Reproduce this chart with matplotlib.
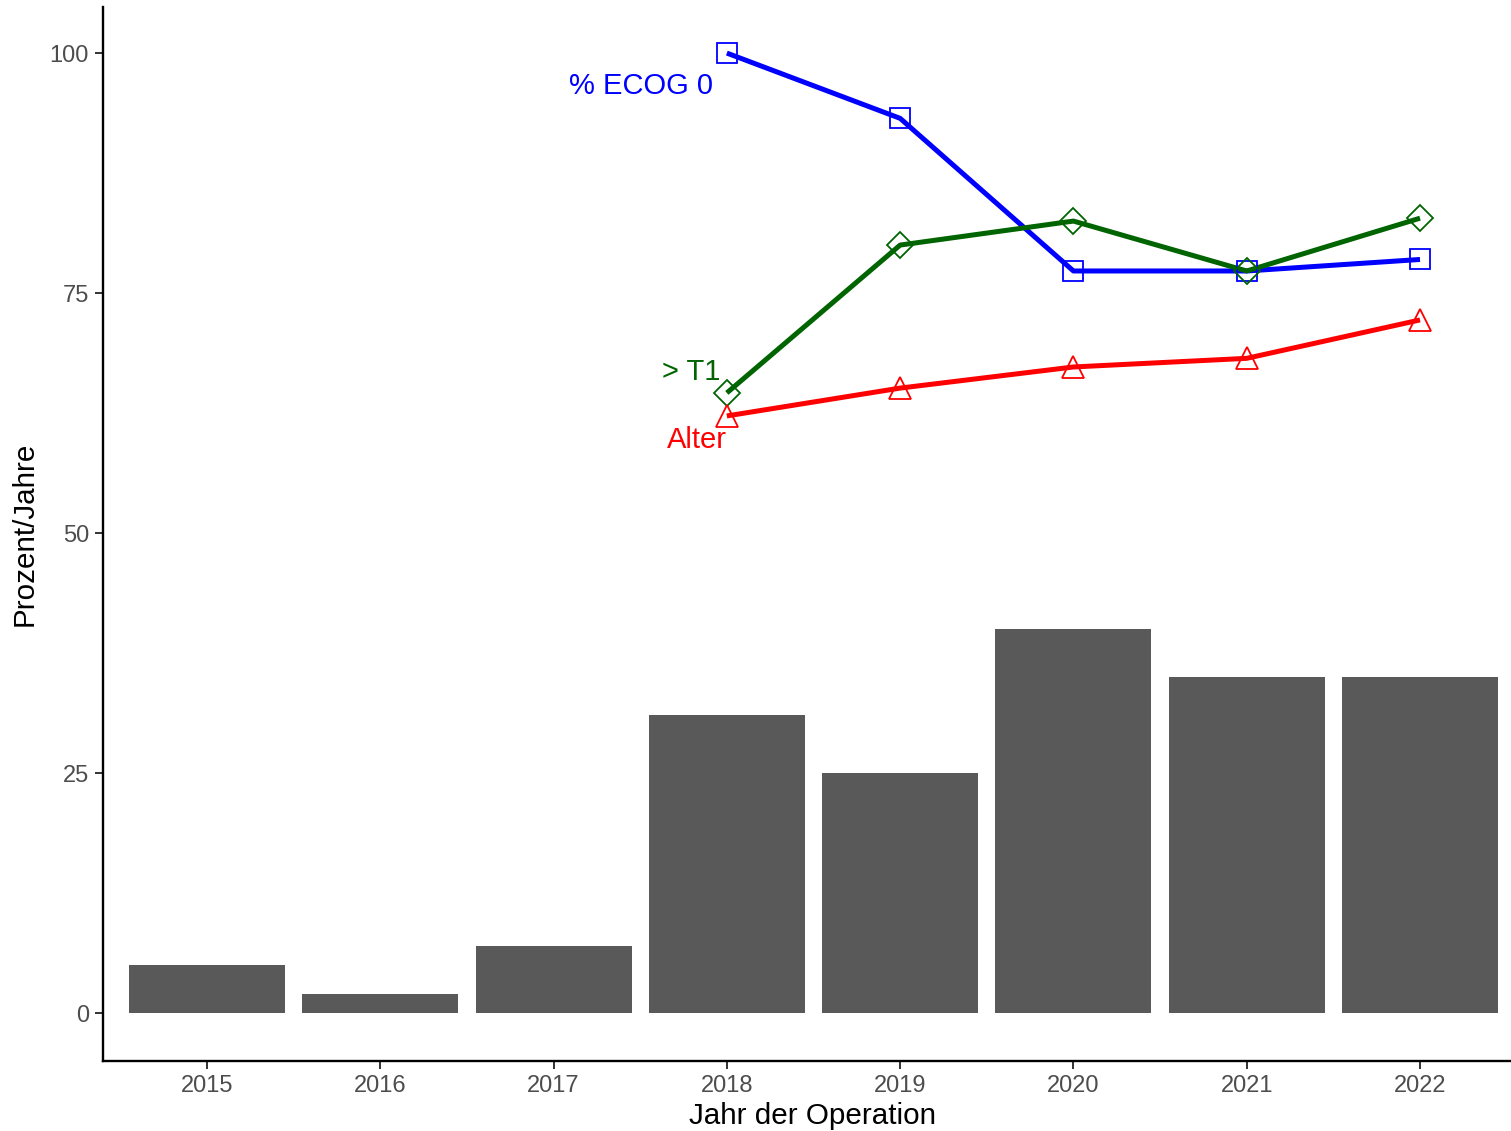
import numpy as np
import matplotlib
matplotlib.use("Agg")
import matplotlib.pyplot as plt

plt.rcParams['font.family'] = ['Liberation Sans', 'DejaVu Sans']

jahre = [2015, 2016, 2017, 2018, 2019, 2020, 2021, 2022]
anzahl = [5, 2, 7, 31, 25, 40, 35, 35]

linien_jahre = [2018, 2019, 2020, 2021, 2022]
ecog0 = [100, 93.2, 77.3, 77.3, 78.5]
t1 = [64.6, 80.0, 82.5, 77.3, 82.8]
alter = [62.2, 65.1, 67.3, 68.2, 72.2]

fig = plt.figure(figsize=(15.11, 11.31), dpi=100)
ax = fig.add_axes([103 / 1511, 70 / 1131, 1 - 103 / 1511, (1124 - 70) / 1131])

ax.bar(jahre, anzahl, width=0.9, color='#595959', zorder=1)

for werte, farbe, marker, ms in [(ecog0, 'blue', 's', 14),
                                 (t1, 'darkgreen', 'D', 13),
                                 (alter, 'red', '^', 16)]:
    ax.plot(linien_jahre, werte, color=farbe, lw=3.6, zorder=2,
            solid_capstyle='butt')
    ax.plot(linien_jahre, werte, ls='none', marker=marker, ms=ms,
            mfc='none', mec=farbe, mew=1.3, zorder=3)

ax.text(2017.92, 96.6, '% ECOG 0', color='blue', fontsize=21,
        ha='right', va='center')
ax.text(2017.96, 66.8, '> T1', color='darkgreen', fontsize=21,
        ha='right', va='center')
ax.text(2018.0, 59.7, 'Alter', color='red', fontsize=21,
        ha='right', va='center')

ax.set_xlim(2014.4, 2022.525)
ax.set_ylim(-5, 104.8)
ax.set_xticks(jahre)
ax.set_yticks([0, 25, 50, 75, 100])

for side in ['top', 'right']:
    ax.spines[side].set_visible(False)
for side in ['left', 'bottom']:
    ax.spines[side].set_linewidth(1.7)

ax.tick_params(axis='both', length=6, width=1.4, color='#333333',
               labelsize=17, labelcolor='#4D4D4D', pad=4)

ax.set_xlabel('Jahr der Operation', fontsize=21.3)
ax.set_ylabel('Prozent/Jahre', fontsize=21.3)
# panel in the original runs past the right edge, so its title sits a bit right of centre
ax.xaxis.set_label_coords(0.504, -0.039)
ax.yaxis.set_label_coords(-0.046, 0.5)

fig.savefig('out.png', dpi=100)
